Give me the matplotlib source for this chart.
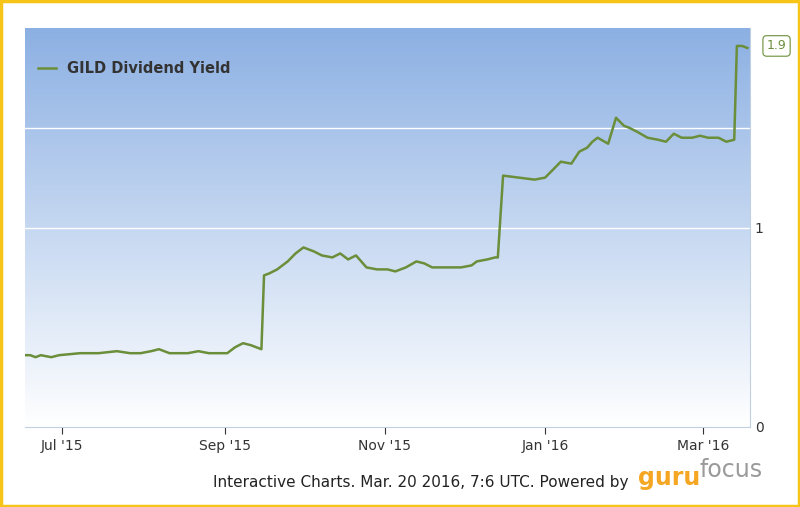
import matplotlib
matplotlib.use("Agg")
import matplotlib.pyplot as plt
import matplotlib.dates as mdates
import numpy as np
import pandas as pd
from matplotlib.colors import LinearSegmentedColormap

dates = ["2015-06-17","2015-06-19","2015-06-21","2015-06-23","2015-06-27","2015-06-30","2015-07-08","2015-07-15","2015-07-22","2015-07-27",
 "2015-07-31","2015-08-04","2015-08-07","2015-08-11","2015-08-18","2015-08-22","2015-08-26","2015-08-29","2015-09-02","2015-09-05",
 "2015-09-08","2015-09-11","2015-09-15","2015-09-16","2015-09-18","2015-09-21","2015-09-25","2015-09-28","2015-10-01","2015-10-05",
 "2015-10-08","2015-10-12","2015-10-15","2015-10-18","2015-10-21","2015-10-25","2015-10-29","2015-11-02","2015-11-05","2015-11-09",
 "2015-11-13","2015-11-16","2015-11-19","2015-11-24","2015-11-30","2015-12-04","2015-12-06","2015-12-10","2015-12-13","2015-12-14",
 "2015-12-16","2015-12-22","2015-12-28","2016-01-01","2016-01-04","2016-01-07","2016-01-11","2016-01-14","2016-01-17","2016-01-19",
 "2016-01-21","2016-01-25","2016-01-28","2016-01-31","2016-02-02","2016-02-05","2016-02-09","2016-02-13","2016-02-16","2016-02-19",
 "2016-02-22","2016-02-26","2016-02-29","2016-03-03","2016-03-07","2016-03-10","2016-03-13","2016-03-14","2016-03-16","2016-03-18"]
values = [0.36,0.36,0.35,0.36,0.35,0.36,0.37,0.37,0.38,0.37,
 0.37,0.38,0.39,0.37,0.37,0.38,0.37,0.37,0.37,0.40,
 0.42,0.41,0.39,0.76,0.77,0.79,0.83,0.87,0.90,0.88,
 0.86,0.85,0.87,0.84,0.86,0.80,0.79,0.79,0.78,0.80,
 0.83,0.82,0.80,0.80,0.80,0.81,0.83,0.84,0.85,0.85,
 1.26,1.25,1.24,1.25,1.29,1.33,1.32,1.38,1.40,1.43,
 1.45,1.42,1.55,1.51,1.50,1.48,1.45,1.44,1.43,1.47,
 1.45,1.45,1.46,1.45,1.45,1.43,1.44,1.91,1.91,1.90]
yticks = [0, 1, 2]
ytick_labels = ["0", "1", ""]
xtick_dates = ["2015-07-01","2015-09-01","2015-11-01","2016-01-01","2016-03-01"]
xtick_labels = ["Jul '15","Sep '15","Nov '15","Jan '16","Mar '16"]

d = pd.to_datetime(dates)
fig = plt.figure(figsize=(8, 5.07), dpi=100)
fig.patch.set_facecolor("white")
ax = fig.add_axes([25/800, 1-427/507, 725/800, 399/507])
x0, x1 = mdates.date2num(pd.Timestamp("2015-06-17")), mdates.date2num(pd.Timestamp("2016-03-19"))
ax.set_xlim(x0, x1)
ax.set_ylim(0, 1.995)
grad = np.linspace(0, 1, 256).reshape(-1, 1)
cmap = LinearSegmentedColormap.from_list("g", ["#ffffff", "#8cb0e3"])
ax.imshow(grad, aspect="auto", cmap=cmap, extent=[x0, x1, 0, 1.995], origin="lower", zorder=0)
for yv in [1, 1.5]:
    ax.axhline(yv, color="white", lw=1, zorder=1)
ax.plot(d, values, color="#6b8e3a", lw=1.8, zorder=3, label="GILD Dividend Yield")
ax.yaxis.tick_right()
ax.set_yticks(yticks)
ax.set_yticklabels(ytick_labels)
ax.set_xticks(mdates.date2num(pd.to_datetime(xtick_dates)))
ax.set_xticklabels(xtick_labels)
ax.tick_params(axis="both", labelsize=10, colors="#333333", length=5, direction="out")
ax.tick_params(axis="y", length=0)
for s in ["top", "left"]:
    ax.spines[s].set_visible(False)
ax.spines["bottom"].set_color("#c0d0e0")
ax.spines["right"].set_color("#c0d0e0")
leg = ax.legend(loc="upper left", bbox_to_anchor=(0.0, 0.95), frameon=False, fontsize=10.5, handlelength=1.2)
for t in leg.get_texts():
    t.set_fontweight("bold"); t.set_color("#333333")
ax.annotate("1.9", xy=(1.0, 1.91), xycoords=("axes fraction", "data"), xytext=(12, 0), textcoords="offset points",
            fontsize=9, color="#6b8e3a", va="center", ha="left", annotation_clip=False,
            bbox=dict(boxstyle="round,pad=0.3", fc="white", ec="#6b8e3a", lw=0.8))
fig.text(213/800, 1-482/507, "Interactive Charts. Mar. 20 2016, 7:6 UTC. Powered by", fontsize=11, color="#222222", va="center")
fig.text(638/800, 1-478/507, "guru", fontsize=17, color="#f5a623", va="center", fontweight="bold")
fig.text(700/800, 1-470/507, "focus", fontsize=17, color="#9a9a9a", va="center")
fig.patches.append(plt.Rectangle((0.001, 0.001), 0.998, 0.998, transform=fig.transFigure, fill=False, ec="#f7c518", lw=2.5))
fig.savefig("out.png", dpi=100)
